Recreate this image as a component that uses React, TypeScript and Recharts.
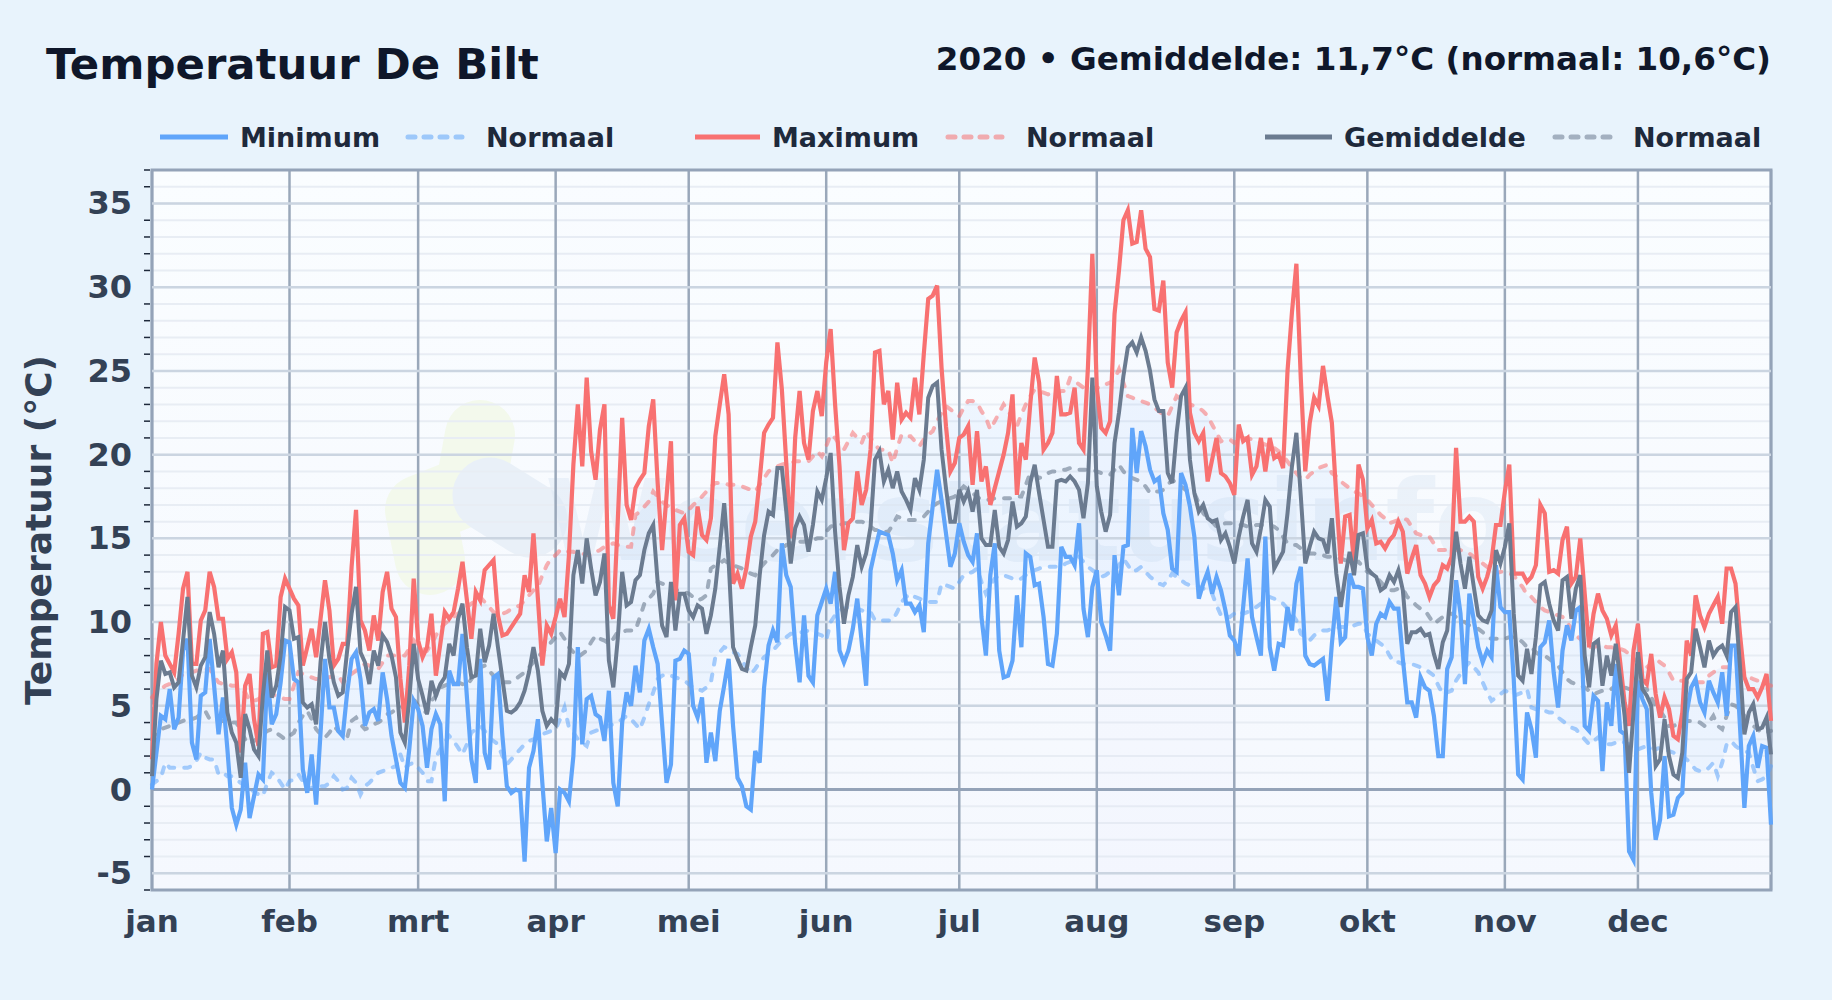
import { ComposedChart, Line, Area, XAxis, YAxis, CartesianGrid, ReferenceLine, ReferenceArea } from "recharts";

const MONTHS = ["jan", "feb", "mrt", "apr", "mei", "jun", "jul", "aug", "sep", "okt", "nov", "dec"];
const MONTH_STARTS = [0, 31, 60, 91, 121, 152, 182, 213, 244, 274, 305, 335];
const Y_TICKS = [-6, -5, -4, -3, -2, -1, 0, 1, 2, 3, 4, 5, 6, 7, 8, 9, 10, 11, 12, 13, 14, 15, 16, 17, 18, 19, 20, 21, 22, 23, 24, 25, 26, 27, 28, 29, 30, 31, 32, 33, 34, 35, 36, 37];
const Y_MAJOR = [-5, 0, 5, 10, 15, 20, 25, 30, 35];

// one row per month
const MINIMUM = [
  0, 2.2, 4.4, 4.2, 6, 3.6, 4.3, 8.3, 9, 2.8, 1.8, 5.6, 5.8, 9, 6.2, 3.3, 5.5, 2.4, -1.1, -2.1, -1.2, 1.6, -1.7, -0.4, 0.9, 0.6, 7, 3.9, 4.5, 6.4, 8.9,
  8.8, 6.6, 6.4, 1.2, -0.2, 2.1, -0.9, 3.4, 7.8, 4.9, 4.9, 3.5, 3.2, 5.8, 7.8, 8.2, 6.6, 3.8, 4.6, 4.8, 4.1, 7, 5.4, 3.2, 1.8, 0.4, 0.1, 2.4, 5.3,
  4.8, 3.8, 1.3, 3.6, 4.5, 3.9, -0.7, 7.1, 6.3, 6.3, 9.3, 5.5, 1.8, 0.4, 7.8, 2.2, 1.2, 6.7, 6.9, 3.2, 0.2, -0.2, 0, -0.1, -4.3, 1.3, 2.3, 4.2, 0.4, -3.1, -1.1,
  -3.8, 0, -0.2, -0.7, 2, 8.5, 2.7, 5.4, 5.6, 4.5, 4.3, 2.9, 5.9, 0.4, -1, 4, 5.8, 5, 7.4, 5.8, 8.9, 9.6, 8.5, 7.5, 3.9, 0.4, 1.5, 7.7, 7.8, 8.3,
  8.1, 5, 4.3, 5.5, 1.6, 3.4, 1.7, 4.7, 6.2, 7.8, 3.8, 0.7, 0.2, -1, -1.2, 2.3, 1.6, 6.1, 8.6, 9.5, 8.8, 14.7, 12.8, 12.1, 8.7, 6.4, 10.4, 6.8, 6.4, 10.4, 11.2,
  12, 11.1, 13, 8.3, 7.6, 8.3, 9.6, 11.4, 8.8, 6.2, 13.1, 14.3, 15.4, 15.3, 15.2, 14.1, 12.5, 13.1, 11.1, 11.1, 10.6, 11, 9.4, 14.7, 16.9, 19.1, 17.3, 15.3, 13.3, 14.1,
  15.9, 14.8, 14, 13.6, 15.3, 10.3, 8, 12.8, 14.7, 8.3, 6.7, 6.8, 7.7, 11.6, 8.5, 14.1, 13.9, 12.2, 12.3, 10.3, 7.5, 7.4, 9.3, 14.5, 13.9, 13.9, 13.4, 15.9, 10.8, 9.1, 12.1,
  13.1, 10, 9.2, 8.3, 14, 11.6, 14.5, 14.6, 21.6, 18.9, 21.4, 20.5, 19.1, 18.4, 18.6, 16.5, 15.5, 13.2, 13, 18.9, 18.2, 16.9, 15.1, 11.4, 12.3, 13, 11.7, 12.7, 11.9, 10.7, 9.2,
  8.9, 8, 10.9, 13.8, 10.3, 9.1, 8, 15.1, 8.5, 7.1, 8.7, 8.6, 10.9, 9.5, 12.3, 13.3, 8, 7.5, 7.4, 7.6, 7.8, 5.3, 8.7, 11.5, 8.8, 9.1, 12.9, 12.1, 12.1, 12,
  9.1, 8, 9.9, 10.5, 10.3, 11.2, 10.8, 10.8, 7.8, 5.2, 5.2, 4.3, 6.7, 6.1, 5.9, 4.4, 2, 2, 7.2, 7.9, 12.5, 10.5, 6.3, 11.7, 10.1, 8.5, 7.6, 8.3, 7.9, 13.4, 10.9,
  10.6, 10.6, 6.6, 0.9, 0.6, 4.6, 3.6, 1.9, 8.5, 8.8, 10.1, 7, 4.9, 8.3, 9.8, 8.9, 10.7, 10.9, 3.8, 3.5, 5.6, 5.3, 1.1, 5.2, 3.8, 7.5, 3.5, 3.3, -3.7, -4.2,
  6.5, 5.4, 4.8, -0.2, -3, -1.8, 2, -1.6, -1.5, -0.5, -0.2, 4.6, 6.1, 6.6, 5.2, 4.6, 6.5, 5.8, 5.2, 7, 4.4, 8.6, 8.6, 3.8, -1.1, 2.6, 3.2, 1.3, 2.6, 2.5, -2.1,
];

const MAXIMUM = [
  1.8, 7.5, 10, 8, 7.5, 7, 9.3, 12, 13, 7.5, 7.5, 10.1, 10.7, 13, 12.1, 10.2, 10.2, 7.8, 8.2, 7, 2.2, 6.2, 6.9, 4.2, 2.6, 9.3, 9.4, 7.3, 7.4, 11.5, 12.6,
  12, 11.4, 11, 7.4, 8.5, 9.6, 7.9, 10.2, 12.5, 10.7, 7.4, 7.8, 8.7, 8.7, 13.3, 16.7, 10.1, 9.5, 8.3, 10.4, 8.9, 11.8, 13, 10.8, 10.3, 6.6, 4, 7.4, 12.6,
  8.9, 7.9, 8.5, 10.5, 6.8, 8.7, 10.6, 10.2, 10.6, 12, 13.6, 11.3, 9, 11.8, 11.3, 13.1, 13.4, 13.7, 10.4, 9.2, 9.3, 9.7, 10.1, 10.5, 12.8, 11.8, 15.3, 11.4, 7.4, 9.8, 9.3,
  10.3, 11.4, 10.3, 14, 19.4, 23, 19.3, 24.6, 20.2, 18.5, 21.5, 23, 11, 10.2, 16, 22.2, 17, 16.1, 18, 18.5, 18.9, 21.7, 23.3, 18.3, 14.3, 17.5, 20.8, 11.3, 15.8, 16.2,
  14.2, 14, 16.9, 15.2, 14.9, 16.2, 21.1, 23, 24.8, 22.4, 12.3, 12.9, 12, 13.2, 15.1, 16, 18.5, 21.3, 21.8, 22.2, 26.7, 23.9, 19.5, 15, 21, 23.8, 20.7, 19.7, 22.6, 23.8, 22.3,
  25.5, 27.5, 23, 19.3, 14.3, 15.9, 16.2, 19, 17, 17.9, 20.3, 26.1, 26.2, 23, 23.8, 20.9, 24.3, 22.1, 22.5, 22.2, 24.6, 22.4, 26, 29.3, 29.5, 30.1, 25.2, 21.7, 19, 19.5,
  21, 21.2, 21.7, 18.2, 21.4, 18.4, 19.3, 17, 18, 19, 20, 21.3, 23.6, 17.6, 20.7, 19.7, 23, 25.8, 24.3, 20.3, 20.7, 21.3, 24.7, 22.4, 22.4, 22.5, 24, 20.7, 20.3, 25.2, 32,
  24, 21.6, 21.3, 22, 28.4, 31, 34, 34.6, 32.6, 32.7, 34.6, 32.3, 31.8, 28.7, 28.6, 30.4, 25.5, 24, 27.3, 28, 28.5, 22.5, 21.3, 20.8, 21.3, 18.4, 19.7, 21, 18.9, 18.7, 18.3,
  17.6, 21.8, 20.8, 21, 18.8, 19.3, 21, 19, 21, 19.8, 20, 19.2, 25, 28.5, 31.4, 24.5, 19, 21.9, 23.4, 22.9, 25.3, 23.5, 21.9, 17.5, 13.5, 16.3, 16.4, 13.5, 19.4, 18.5,
  15.6, 16.1, 14.7, 14.8, 14.4, 14.9, 15.2, 16, 15.4, 12.9, 13.8, 14.6, 12.8, 12.3, 11.5, 12.2, 12.5, 13.4, 13.2, 13.9, 20.4, 16, 16, 16.3, 16, 12.7, 12, 12.7, 13.7, 15.8, 15.8,
  17.8, 19.4, 12.9, 12.9, 12.9, 12.4, 12.7, 13.4, 17, 16.5, 13, 13.1, 12.9, 14.9, 15.7, 12.3, 12.7, 15, 11.7, 8.5, 10.5, 11.7, 10.7, 10.2, 9.2, 9.8, 7.6, 5.2, 3.8, 8.3,
  9.9, 6.6, 6.3, 8.1, 5.7, 4.3, 5.5, 4.8, 3.2, 3, 4.6, 8.9, 8, 11.6, 10.4, 9.7, 10.5, 11, 11.5, 9.9, 13.2, 13.2, 12.3, 9.3, 6.7, 6, 6, 5.5, 6.1, 6.9, 4.1,
];

const GEMIDDELDE = [
  0.8, 5.4, 7.7, 6.9, 7, 6.1, 6.4, 8.9, 11.5, 6.8, 6.1, 7.4, 7.9, 10.6, 9.3, 7.3, 8.3, 4.6, 3.4, 2.8, 0.7, 4.5, 3.6, 2.4, 2, 5.6, 8.3, 5.5, 6.2, 8, 10.9,
  10.7, 9, 9.1, 5.2, 4.9, 5.1, 3.9, 7.6, 10, 7.8, 6.4, 5.6, 5.8, 8.3, 10.5, 12.1, 8.2, 7.6, 6.3, 8.3, 7.4, 9.2, 8.8, 8, 6.7, 3.4, 2.8, 5.4, 8.7,
  6.6, 5.6, 4.5, 6.5, 5.6, 6.3, 6.7, 8.7, 8, 10.2, 11.1, 8.5, 6.7, 6.8, 9.6, 7.6, 8.6, 10.5, 8.5, 6.6, 4.7, 4.6, 4.8, 5.2, 5.9, 7, 8.5, 7.1, 4.7, 3.8, 4.2,
  3.9, 7, 6.7, 7.5, 12.8, 14.3, 12.3, 15, 13.2, 11.6, 12.4, 14.1, 7.7, 6.1, 9, 13, 11, 11.2, 12.5, 12.8, 14.3, 15.3, 15.8, 12.4, 9.8, 9.1, 12.4, 9.5, 11.7, 11.7,
  10.7, 10.3, 11, 10.8, 9.3, 10.4, 12, 14.5, 17.1, 13.6, 8.5, 7.8, 7.2, 7.1, 8.5, 9.8, 12.8, 15.2, 16.6, 16.4, 19.2, 19.2, 16.6, 13.5, 15.6, 16.3, 15.8, 14.2, 15.8, 17.8, 17.3,
  18.6, 20.1, 15.4, 12.1, 9.9, 11.6, 12.7, 14.6, 13.3, 14.1, 15.7, 19.7, 20.2, 18.4, 19.1, 18, 19, 17.8, 17.3, 16.7, 18.6, 17.9, 19.7, 23.4, 24.1, 24.3, 20.3, 18, 16, 16,
  17.9, 17.2, 17.8, 16.6, 17.9, 15, 14.6, 14.6, 16.7, 14.5, 14.1, 14.9, 17.2, 15.7, 15.9, 16.3, 18.3, 19.4, 17.7, 16.1, 14.5, 14.5, 18.4, 18.5, 18.4, 18.7, 18.4, 17.9, 16.2, 18.3, 24.6,
  18.1, 16.6, 15.4, 16.4, 20.7, 22.5, 24.7, 26.4, 26.7, 26.1, 27, 26.2, 25, 23.3, 22.6, 22.6, 18.9, 18.3, 21.3, 23.5, 24, 19.7, 17.7, 16.6, 17, 16.2, 16, 16.1, 14.9, 15.3, 14.5,
  13.5, 15.1, 16.3, 17.3, 14.7, 14.2, 15.6, 17.3, 16.9, 13.2, 13.7, 14.2, 16.5, 19.3, 21.3, 17.5, 13.5, 14.5, 15.4, 15, 14.9, 14.1, 16.2, 12.9, 10.9, 12.7, 14.2, 12.8, 15.2, 15.3,
  13.2, 12.9, 12.7, 11.9, 12.1, 12.8, 12.4, 13.1, 11.9, 8.7, 9.4, 9.4, 9.6, 9.2, 9.3, 8.1, 7.2, 8.8, 9.5, 12.5, 15.4, 13.5, 12, 13.9, 12.1, 10.4, 10.1, 10, 10.7, 14.3, 13.5,
  14.5, 15.9, 10.5, 6.8, 6.5, 8.4, 6.9, 9.1, 12.2, 12.4, 11.1, 10.1, 9.5, 12.5, 12.7, 10.2, 12, 12.8, 8, 6.1, 8.7, 8.9, 6.2, 8, 6.8, 8.7, 6.6, 4.4, 1, 4.6,
  8.2, 6, 5.6, 5, 1.4, 1.8, 4.2, 2, 0.9, 0.7, 2.2, 6.6, 7, 9.6, 8.5, 7.3, 8.9, 8, 8.4, 8.6, 8, 10.6, 10.9, 7.4, 3.3, 4.6, 5.1, 3.6, 3.7, 4.3, 2.1,
];

const NORMAAL_MIN = [
  0.3, 0.5, 0.7, 1.6, 1.3, 1.3, 1.3, 1.3, 1.3, 1.4, 1.7, 2.2, 1.9, 1.8, 1.8, 0.9, 1, 0.8, 0.8, 0.6, 0.4, 0.2, 0, -0.1, -0.3, -0.4, 0.4, 1, 0.8, 0.4, 0,
  0.5, 0.6, 0.9, 0.5, 0, 0.1, 0.2, 0.2, 0.2, 0.4, 0.8, 0.5, 0, 0.1, 0.7, 0.4, -0.3, 0.2, 0.4, 0.7, 1, 1.1, 1.2, 1.3, 1.4, 2.1, 1.3, 1.5, 1.6,
  1.3, 1, 0.5, 0.5, 1.9, 2.4, 2.8, 3.2, 2.9, 2.5, 2.1, 2.7, 3.4, 3.6, 3.8, 3.5, 3.1, 2.9, 2.7, 2, 1.5, 1.8, 2.1, 2.4, 2.7, 2.9, 3, 3.1, 3.3, 3.4, 3.5,
  3.6, 4.2, 4.9, 3.7, 3.4, 3, 2.8, 2.6, 3.4, 3.5, 3.6, 3.7, 3.8, 3.9, 4, 4.2, 4.4, 4.2, 3.9, 3.6, 4.3, 5.1, 5.8, 6.6, 6.8, 6.9, 6.8, 6.7, 6.6, 6.5,
  6.3, 6.1, 6, 5.9, 6.1, 6.4, 7.9, 8.2, 8.5, 8.4, 8.2, 8.1, 7.7, 7.3, 6.9, 7.2, 7.6, 7.9, 8.1, 8.3, 8.6, 8.9, 9.1, 9.3, 9.3, 9.4, 9.4, 9.5, 9.4, 9.3, 9.2,
  8.9, 10, 10.4, 10.7, 10.8, 10.9, 10.9, 10.8, 10.7, 10.6, 10.6, 10.1, 10.1, 10.1, 10.1, 10.1, 10.6, 11.2, 11.5, 11.7, 11.5, 11.4, 11.3, 11.2, 11.2, 11.2, 12.3, 12.2, 12.1, 12,
  12.4, 12.8, 12.9, 13, 13.2, 12.4, 11.7, 12.2, 12.6, 12.8, 12.8, 12.7, 12.6, 12.5, 12.6, 12.8, 12.9, 13.1, 13.2, 13.3, 13.3, 13.3, 13.3, 13.3, 13.5, 13.6, 13.8, 13.9, 13.6, 13.3, 13.1,
  12.9, 12.7, 12.8, 13, 13.1, 13.4, 13.8, 13.4, 13, 13.1, 13.3, 13, 12.7, 12.5, 12.3, 12.2, 12.5, 12.9, 12.7, 12.5, 12.3, 12.2, 12.2, 12.1, 12, 11.9, 11.7, 11, 10.4, 10.4, 10.3,
  10.5, 10.7, 10.5, 10.6, 10.8, 10.9, 11.1, 11.3, 11.5, 11.4, 11.2, 11.1, 10.8, 10.5, 10.1, 9.3, 9.1, 8.9, 9.2, 9.4, 9.5, 9.5, 9.6, 9.6, 9.7, 9.7, 9.8, 9.8, 9.9, 9.9,
  9.3, 9.1, 8.9, 8.7, 8.5, 8, 7.6, 7.6, 7.5, 7.5, 7.5, 7.4, 7.3, 7.2, 7, 6.8, 6.2, 5.7, 5.8, 5.9, 6.5, 6.9, 7.3, 7.6, 7.3, 7, 6.4, 5.8, 5.3, 5.5, 5.7,
  5.9, 5.8, 5.6, 5.7, 5.8, 6, 4.9, 4.8, 4.8, 4.7, 4.6, 4.6, 4.3, 4.1, 3.9, 3.7, 3.6, 3.3, 3, 2.7, 2.9, 3.1, 2.9, 2.7, 2.7, 2.8, 2.9, 2.8, 2.7, 2.5,
  2.4, 2.5, 2.6, 2.5, 2.4, 2.5, 2.4, 2.3, 2.2, 2.1, 2, 1.8, 1.5, 1.2, 1.1, 1.1, 1.3, 1.6, 0.8, 1.6, 2.7, 2.9, 2.6, 2.4, 2.3, 2.2, 1.3, 0.5, 0.6, 0.8, 1.4,
];

const NORMAAL_MAX = [
  5.5, 5.8, 6, 6.2, 6.3, 6.4, 6.6, 6.9, 7, 7, 7.1, 7.2, 7.2, 7.2, 6.8, 6.4, 6.3, 6.3, 6.2, 6.2, 6, 5.8, 5.3, 5.3, 5.4, 5.6, 5.8, 5.7, 5.6, 5.5, 5.4,
  5.4, 6.2, 7, 6.9, 6.8, 6.7, 6.6, 6.6, 6.7, 6.7, 6.8, 6.8, 6.4, 6.6, 6.9, 7.1, 7.3, 7.5, 7.4, 7.3, 7.2, 7.6, 8, 8, 8, 8, 8, 8.4, 8.9,
  8.6, 8.4, 8.3, 8.7, 9.2, 9.6, 9.9, 10.1, 10.3, 10.5, 10.7, 10.9, 11.1, 11.3, 11.5, 11.2, 10.9, 10.6, 10.4, 10.5, 10.6, 10.8, 10.9, 11, 11.3, 11.6, 11.9, 12.1, 12.8, 13.4, 13.8,
  14, 14.3, 14.3, 14.2, 14.2, 14.1, 14.1, 14, 14, 14.2, 14.3, 14.5, 14.6, 14.7, 14.6, 14.6, 14.5, 14.5, 16.4, 16.6, 16.9, 17.2, 17.8, 17.5, 17.2, 17, 16.8, 16.7, 16.6, 16.5,
  16.7, 17, 17.2, 17.5, 17.8, 18.1, 18.3, 18.3, 18.3, 18.2, 18.2, 18.2, 18.1, 18, 17.9, 17.8, 18.2, 18.6, 19, 19.2, 19.3, 19.4, 19.5, 19.5, 19.6, 19.6, 19.6, 19.6, 19.9, 20.2, 19.9,
  20.5, 21.2, 21, 20.6, 20.3, 20.8, 21.3, 21, 20.7, 21.4, 21, 20.6, 20.3, 20.3, 20.3, 19.5, 20.4, 21.2, 21.1, 21.1, 20.8, 20.5, 20.9, 21.2, 21.4, 22, 22.5, 22.9, 22.7, 22.5,
  22.3, 22.8, 23.2, 23.2, 23.1, 22.6, 22.2, 21.5, 22, 22.5, 23, 22.6, 22.2, 21.7, 22.4, 23, 23.5, 23.9, 23.8, 23.7, 23.6, 23.7, 23.7, 23.8, 23.8, 24.6, 24.4, 24.2, 24, 23.9, 24,
  24, 24, 24.2, 24.3, 24.5, 25.1, 24.3, 23.5, 23.4, 23.3, 23.2, 23.1, 23, 22.8, 22.6, 22.4, 22.3, 22.9, 23.5, 23.3, 23.2, 23, 22.9, 22.8, 22.6, 22.3, 21.8, 21.3, 20.8, 20.9, 20.9,
  20.7, 20.9, 21, 21, 20.9, 20.8, 20.7, 20.6, 20.5, 20.4, 20.2, 19.9, 19.6, 19.2, 18.9, 18.6, 18.5, 18.8, 19, 19.2, 19.3, 19.4, 18.9, 18.7, 18.4, 18.2, 18, 17.8, 17.7, 17.5,
  17.3, 17, 16.7, 16.4, 16.2, 15.9, 16, 16.1, 16.2, 16.1, 15.7, 15.3, 15.2, 15.2, 15.1, 14.7, 14.3, 14.3, 14.3, 14.3, 14.3, 14.3, 14.2, 14.1, 13.9, 13.7, 13.5, 13.3, 13.1, 12.9, 13,
  13, 12.9, 12.8, 12.4, 12.1, 11.6, 11.5, 11.2, 10.9, 10.7, 10.6, 10.5, 10.4, 10.3, 10, 9.6, 9.2, 9, 8.7, 8.5, 8.5, 8.6, 8.6, 8.5, 8.5, 8.4, 8.4, 8.3, 8.1, 7.8,
  7.7, 7.5, 7.3, 7.5, 7.8, 7.6, 7.4, 7, 6.5, 6.5, 6.5, 6.4, 6.4, 6.4, 6.4, 6.4, 6.8, 7, 7.2, 7.3, 7.3, 7.3, 7.1, 6.9, 6.8, 6.7, 6.6, 6.5, 6.4, 6.3, 6.2,
];

const NORMAAL_GEM = [
  3, 3.4, 3.6, 3.7, 3.8, 3.9, 4, 4.1, 4.2, 4.2, 4.3, 4.5, 4.7, 4.2, 4.2, 4.1, 4.1, 4.1, 4, 4, 3.5, 3, 2.7, 2.9, 3.1, 3.3, 3.5, 3.6, 3.4, 3.2, 3,
  3.2, 3.4, 4, 4.4, 4.7, 4.2, 3.6, 3.3, 3.1, 3.4, 3.8, 3.5, 3.3, 3.1, 4.1, 4.3, 3.9, 3.6, 3.7, 3.9, 4, 4.2, 4.5, 4.6, 4.8, 4.9, 5, 5.2, 5.4,
  5, 4.7, 4.6, 5.3, 5.6, 6.1, 6.2, 6.3, 6.3, 6.4, 6.3, 6.2, 6.6, 7, 7.3, 7.4, 7.1, 6.8, 6.5, 6.4, 6.4, 6.4, 6.6, 6.8, 7, 7.3, 7.6, 7.9, 8.2, 8.5, 8.8,
  9.1, 9.4, 9, 8.5, 8.2, 7.9, 8.1, 8.3, 8.8, 9.2, 9, 8.9, 8.7, 9, 9.4, 9.4, 9.5, 9.5, 9.5, 10.3, 11.1, 11.4, 11.7, 12.4, 12.3, 12.2, 12, 11.9, 11.9, 11.8,
  11.7, 11.5, 11.3, 11.4, 11.6, 13.2, 13.4, 13.5, 13.7, 13.5, 13.4, 13.3, 13.2, 13, 12.9, 12.8, 13.2, 13.5, 13.8, 14, 14.3, 14.4, 14.6, 14.7, 14.7, 14.8, 14.8, 14.9, 14.9, 15, 15,
  15.4, 15.7, 15.8, 15.8, 15.9, 15.9, 16, 16, 16, 15.9, 15.7, 15.5, 15.5, 15.4, 15.4, 15.8, 16.3, 16.2, 16.1, 16.1, 16.1, 16.2, 16.3, 16.6, 16.9, 17.1, 17.2, 17.3, 17.4, 17.5,
  17.8, 18.1, 17.9, 17.7, 17.5, 17.3, 17.3, 17.3, 17.4, 17.4, 17.4, 17.4, 17.4, 17.5, 17.5, 18.2, 18.9, 18.8, 18.6, 18.7, 18.9, 19, 19, 19.1, 19.1, 19.2, 19.2, 19.1, 19.1, 19.1, 19.1,
  19, 18.9, 18.8, 18.8, 19.1, 19.4, 19, 18.7, 18.6, 18.5, 18.4, 18.1, 17.7, 17.8, 17.8, 17.9, 18.2, 18.5, 18.3, 18.1, 17.9, 17.8, 17.7, 17.1, 16.5, 16.2, 16, 15.7, 15.8, 15.9, 15.9,
  15.9, 15.8, 15.8, 15.7, 15.7, 15.8, 15.8, 15.8, 15.8, 15.7, 15.5, 15.1, 14.7, 14.6, 14.6, 14.4, 14.3, 14.1, 14.1, 14, 14, 13.9, 13.9, 13.8, 13.8, 13.7, 13.7, 13.6, 13.6, 13.3,
  13, 12.9, 12.7, 12.4, 12.1, 11.9, 11.9, 12, 12, 11.5, 11.3, 11, 10.8, 10.7, 10.3, 9.9, 10.1, 10.3, 10.5, 10.5, 10.3, 10.1, 10, 9.8, 9.7, 9.6, 9.4, 9.1, 9, 9, 9,
  9, 9.1, 9.1, 9, 8.8, 8.5, 8.5, 8.2, 8, 8, 7.8, 7.6, 7.4, 7, 6.6, 6.4, 6.3, 6.2, 6.1, 5.9, 5.7, 5.8, 5.9, 6, 6, 6.2, 6.1, 6.1, 6, 6,
  6, 6, 6, 5.5, 5, 4.7, 4.3, 3.8, 3.8, 3.9, 4, 4.1, 4.1, 4.1, 4, 3.8, 4, 4.4, 3.8, 3.6, 4.4, 5.1, 5, 4.8, 4.4, 4, 3.8, 3.6, 3.4, 3.4, 3.5,
];

const chartData = MINIMUM.map((min, day) => ({
  day,
  min,
  max: MAXIMUM[day],
  avg: GEMIDDELDE[day],
  normMin: NORMAAL_MIN[day],
  normMax: NORMAAL_MAX[day],
  normAvg: NORMAAL_GEM[day],
  band: [NORMAAL_MIN[day], NORMAAL_MAX[day]],
}));

const FONT = "'DejaVu Sans', sans-serif";
const BLUE = "#60a5fa";
const RED = "#f87171";
const SLATE = "#6b7b90";
const NORMAL_DASH = "6 10";

function YTick({ x, y, payload }: any) {
  if (Y_MAJOR.includes(payload.value)) {
    return (
      <text x={x - 18} y={y + 11} textAnchor="end" fontFamily={FONT} fontWeight="bold" fontSize={32} fill="#334155">
        {payload.value}
      </text>
    );
  }
  return <line x1={x - 6} x2={x} y1={y} y2={y} stroke="#1e293b" strokeWidth={1.5} />;
}

function LegendItem({ x1, x2, tx, label, color, dashed }: any) {
  return (
    <g>
      <line
        x1={x1}
        x2={x2}
        y1={137}
        y2={137}
        stroke={color}
        strokeWidth={5}
        strokeDasharray={dashed ? "7 9" : undefined}
        strokeLinecap={dashed ? "round" : "butt"}
        opacity={dashed ? 0.55 : 1}
      />
      <text x={tx} y={146.5} fontFamily={FONT} fontWeight="bold" fontSize={27} fill="#1e293b">
        {label}
      </text>
    </g>
  );
}

export default function App() {
  return (
    <div style={{ position: "absolute", left: 0, top: 0, width: 1832, height: 1000, background: "#e8f3fc", overflow: "hidden" }}>
      <svg width={1832} height={1000} style={{ position: "absolute", left: 0, top: 0 }}>
        <defs>
          <linearGradient id="plotBg" x1="0" y1="0" x2="0" y2="1">
            <stop offset="0" stopColor="#fafdff" />
            <stop offset="1" stopColor="#f5f8fe" />
          </linearGradient>
        </defs>
        <rect x={152} y={170} width={1619} height={720} fill="url(#plotBg)" />
        {/* watermark */}
        <path d="M480 435 L470 490 L420 510 L430 560" stroke="#f3f9ec" strokeWidth={70} strokeLinecap="round" strokeLinejoin="round" fill="none" />
        <path d="M490 495 L530 520" stroke="#e9f0f8" strokeWidth={75} strokeLinecap="round" fill="none" />
        <text x={545} y={560} fontFamily={FONT} fontWeight="bold" fontSize={112} fill="#dfeaf6" opacity={0.5}>
          Weerstatusinfo
        </text>
        <text x={46} y={78.5} fontFamily={FONT} fontWeight="bold" fontSize={43.4} fill="#0f172a">
          Temperatuur De Bilt
        </text>
        <text x={1771} y={69.5} textAnchor="end" fontFamily={FONT} fontWeight="bold" fontSize={32.6} fill="#0f172a">
          2020 • Gemiddelde: 11,7°C (normaal: 10,6°C)
        </text>
        <LegendItem x1={160} x2={228} tx={240} label="Minimum" color={BLUE} />
        <LegendItem x1={408} x2={462} tx={486} label="Normaal" color={BLUE} dashed />
        <LegendItem x1={695} x2={760} tx={772} label="Maximum" color={RED} />
        <LegendItem x1={948} x2={1002} tx={1026} label="Normaal" color={RED} dashed />
        <LegendItem x1={1265} x2={1332} tx={1344} label="Gemiddelde" color={SLATE} />
        <LegendItem x1={1555} x2={1616} tx={1633} label="Normaal" color={SLATE} dashed />
      </svg>
      <div style={{ position: "absolute", left: 0, top: 0 }}>
        <ComposedChart width={1832} height={1000} data={chartData} margin={{ top: 170, right: 61, bottom: 0, left: 0 }}>
          <ReferenceArea x1={91} x2={121} y1={-6} y2={37} fill="#6366f1" fillOpacity={0.008} stroke="none" />
          <ReferenceArea x1={213} x2={244} y1={-6} y2={37} fill="#6366f1" fillOpacity={0.01} stroke="none" />
          <CartesianGrid horizontal vertical={false} stroke="#e8edf4" strokeWidth={2} />
          {Y_MAJOR.map((v) => (
            <ReferenceLine key={v} y={v} stroke={v === 0 ? "#94a3b8" : "#cbd5e1"} strokeWidth={v === 0 ? 3 : 2.5} />
          ))}
          <CartesianGrid horizontal={false} vertical stroke="#9aa8ba" strokeWidth={2.5} />
          <XAxis
            dataKey="day"
            type="number"
            domain={[0, 365]}
            ticks={MONTH_STARTS}
            interval={0}
            height={110}
            tickFormatter={(d: number) => MONTHS[MONTH_STARTS.indexOf(d)]}
            tick={{ fontFamily: FONT, fontWeight: "bold", fontSize: 31, fill: "#334155" }}
            tickLine={false}
            axisLine={false}
            tickMargin={14}
          />
          <YAxis
            type="number"
            domain={[-6, 37]}
            ticks={Y_TICKS}
            interval={0}
            width={152}
            tick={<YTick />}
            tickLine={false}
            tickSize={0}
            axisLine={false}
            label={{
              value: "Temperatuur (°C)",
              angle: -90,
              position: "insideLeft",
              dx: 33,
              style: { fontFamily: FONT, fontWeight: "bold", fontSize: 36, fill: "#334155", textAnchor: "middle" },
            }}
          />
          <Area dataKey="band" stroke="none" fill={BLUE} fillOpacity={0.07} isAnimationActive={false} dot={false} activeDot={false} />
          <Line dataKey="normMin" stroke={BLUE} strokeOpacity={0.55} strokeWidth={4} strokeDasharray={NORMAL_DASH} strokeLinecap="round" dot={false} isAnimationActive={false} />
          <Line dataKey="normMax" stroke={RED} strokeOpacity={0.55} strokeWidth={4} strokeDasharray={NORMAL_DASH} strokeLinecap="round" dot={false} isAnimationActive={false} />
          <Line dataKey="normAvg" stroke={SLATE} strokeOpacity={0.6} strokeWidth={4} strokeDasharray={NORMAL_DASH} strokeLinecap="round" dot={false} isAnimationActive={false} />
          <Line dataKey="min" stroke={BLUE} strokeWidth={4.2} dot={false} isAnimationActive={false} />
          <Line dataKey="max" stroke={RED} strokeWidth={4.2} dot={false} isAnimationActive={false} />
          <Line dataKey="avg" stroke={SLATE} strokeWidth={4} dot={false} isAnimationActive={false} />
          <ReferenceArea x1={0} x2={365} y1={-6} y2={37} fill="none" stroke="#94a3b8" strokeWidth={3} />
        </ComposedChart>
      </div>
    </div>
  );
}
